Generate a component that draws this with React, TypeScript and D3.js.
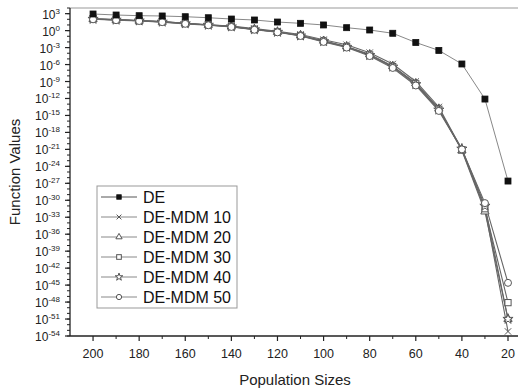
import React from "react";
import * as d3 from "d3";

const populations = [200, 190, 180, 170, 160, 150, 140, 130, 120, 110, 100, 90, 80, 70, 60, 50, 40, 30, 20];
const xTicksMajor = [200, 180, 160, 140, 120, 100, 80, 60, 40, 20];
const xTicksMinor = [190, 170, 150, 130, 110, 90, 70, 50, 30];
const yTickExponents = [3, 0, -3, -6, -9, -12, -15, -18, -21, -24, -27, -30, -33, -36, -39, -42, -45, -48, -51, -54];

// exponents (log10 of function values)
const deExp = [2.94, 2.76, 2.64, 2.59, 2.46, 2.28, 2.05, 1.88, 1.52, 1.29, 1.0, 0.52, 0.11, -0.47, -2.1, -3.5, -5.9, -12.1, -26.6];
const mdm10Exp = [2.1, 1.95, 1.8, 1.6, 1.3, 1.05, 0.8, 0.35, -0.1, -0.7, -1.6, -2.5, -3.9, -5.9, -9.0, -13.5, -21.0, -31.5, -53.2];
const mdm20Exp = [2.05, 1.9, 1.75, 1.55, 1.25, 1.0, 0.7, 0.2, -0.25, -0.85, -1.8, -2.8, -4.2, -6.3, -9.3, -13.8, -21.2, -32.0, -51.0];
const mdm30Exp = [2.1, 1.95, 1.8, 1.6, 1.3, 1.05, 0.75, 0.25, -0.2, -0.85, -1.85, -2.85, -4.3, -6.35, -9.4, -13.9, -21.1, -31.5, -48.1];
const mdm40Exp = [2.05, 1.9, 1.75, 1.55, 1.25, 1.0, 0.7, 0.2, -0.25, -0.9, -1.9, -2.9, -4.35, -6.4, -9.5, -14.0, -20.9, -31.0, -51.0];
const mdm50Exp = [2.0, 1.85, 1.7, 1.5, 1.2, 0.95, 0.65, 0.15, -0.3, -0.95, -2.0, -3.0, -4.5, -6.6, -9.7, -14.2, -21.0, -30.5, -44.6];

const seriesNames = ["DE", "DE-MDM 10", "DE-MDM 20", "DE-MDM 30", "DE-MDM 40", "DE-MDM 50"];
const seriesData = [deExp, mdm10Exp, mdm20Exp, mdm30Exp, mdm40Exp, mdm50Exp];
const seriesMarkers = ["square", "x", "triangle", "square-open", "star", "circle"];

const W = 518;
const H = 390;
const FONT = "Arial, 'Liberation Sans', sans-serif";

const x = d3.scaleLinear().domain([210, 20]).range([70, 508]);
const y = d3.scaleLog().domain([1e-54, 1e4]).range([336, 8]);

function Marker({ type, cx, cy, k = 1 }: { type: string; cx: number; cy: number; k?: number }) {
  const stroke = "#555";
  if (type === "square") {
    const s = 3 * k;
    return <rect x={cx - s} y={cy - s} width={2 * s} height={2 * s} fill="#111" stroke="#111" strokeWidth={0.8} />;
  }
  if (type === "square-open") {
    const s = 3.1 * k;
    return <rect x={cx - s} y={cy - s} width={2 * s} height={2 * s} fill="#fff" stroke={stroke} strokeWidth={1} />;
  }
  if (type === "circle") {
    return <circle cx={cx} cy={cy} r={3.5 * k} fill="#fff" stroke={stroke} strokeWidth={1} />;
  }
  if (type === "x") {
    const s = 3.2 * k;
    return (
      <path
        d={`M${cx - s},${cy - s}L${cx + s},${cy + s}M${cx - s},${cy + s}L${cx + s},${cy - s}`}
        stroke={stroke}
        strokeWidth={1}
        fill="none"
      />
    );
  }
  const sym = type === "triangle" ? d3.symbolTriangle : d3.symbolStar;
  const size = (type === "triangle" ? 30 : 32) * k * k;
  const p = d3.symbol().type(sym).size(size)() as string;
  return <path d={p} transform={`translate(${cx},${cy})`} fill="#fff" stroke={stroke} strokeWidth={1} />;
}

export default function App() {
  const line = d3
    .line<number>()
    .x((_, i) => x(populations[i]))
    .y((e) => y(Math.pow(10, e)));

  const minorY: number[] = d3.range(4, -55, -1);

  const legendX = 97;
  const legendY = 186;
  const legendW = 140;
  const legendH = 122;

  const order = [1, 2, 3, 4, 5, 0];

  return (
    <svg
      width={W}
      height={H}
      style={{ position: "absolute", left: 0, top: 0, background: "#fff" }}
      fontFamily={FONT}
    >
      <rect x={0} y={0} width={W} height={H} fill="#fff" />
      {/* top frame */}
      <line x1={70} x2={W} y1={8} y2={8} stroke="#bbb" strokeWidth={1.5} />

      {order.map((i) => (
        <path
          key={seriesNames[i]}
          d={line(seriesData[i]) as string}
          fill="none"
          stroke={i === 0 ? "#888" : "#666"}
          strokeWidth={i === 0 ? 1 : 1.1}
        />
      ))}
      {order.map((i) => (
        <g key={seriesNames[i] + "m"}>
          {seriesData[i].map((e, j) => (
            <Marker key={j} type={seriesMarkers[i]} cx={x(populations[j])} cy={y(Math.pow(10, e))} />
          ))}
        </g>
      ))}

      {/* y axis */}
      <line x1={70} x2={70} y1={8} y2={336} stroke="#222" strokeWidth={1.3} />
      {minorY.map((e) => (
        <line key={"my" + e} x1={67} x2={70} y1={y(Math.pow(10, e))} y2={y(Math.pow(10, e))} stroke="#222" strokeWidth={1} />
      ))}
      {yTickExponents.map((e) => (
        <g key={"ty" + e}>
          <line x1={65} x2={70} y1={y(Math.pow(10, e))} y2={y(Math.pow(10, e))} stroke="#222" strokeWidth={1.2} />
          <text x={60} y={y(Math.pow(10, e)) + 5} textAnchor="end" fontSize={12} fill="#222">
            <tspan>10</tspan>
            <tspan dy={-5} fontSize={8}>
              {e}
            </tspan>
          </text>
        </g>
      ))}

      {/* x axis */}
      <line x1={70} x2={W} y1={336} y2={336} stroke="#222" strokeWidth={1.3} />
      {xTicksMinor.map((v) => (
        <line key={"mx" + v} x1={x(v)} x2={x(v)} y1={336} y2={339} stroke="#222" strokeWidth={1} />
      ))}
      {xTicksMajor.map((v) => (
        <g key={"tx" + v}>
          <line x1={x(v)} x2={x(v)} y1={336} y2={341} stroke="#222" strokeWidth={1.2} />
          <text x={x(v)} y={358} textAnchor="middle" fontSize={12.5} fill="#222">
            {v}
          </text>
        </g>
      ))}

      {/* axis titles */}
      <text x={295} y={385} textAnchor="middle" fontSize={15} fill="#222">
        Population Sizes
      </text>
      <text transform="translate(20,172) rotate(-90)" textAnchor="middle" fontSize={15} fill="#222">
        Function Values
      </text>

      {/* legend */}
      <rect x={legendX} y={legendY} width={legendW} height={legendH} fill="#fff" stroke="#999" strokeWidth={1} />
      {seriesNames.map((name, i) => {
        const ly = legendY + 11 + i * 20;
        return (
          <g key={"lg" + name}>
            <line x1={101} x2={137} y1={ly} y2={ly} stroke={i === 0 ? "#555" : "#888"} strokeWidth={1} />
            <Marker type={seriesMarkers[i]} cx={119} cy={ly} k={0.75} />
            <text x={143} y={ly + 6} fontSize={16} fill="#111">
              {name}
            </text>
          </g>
        );
      })}
    </svg>
  );
}
